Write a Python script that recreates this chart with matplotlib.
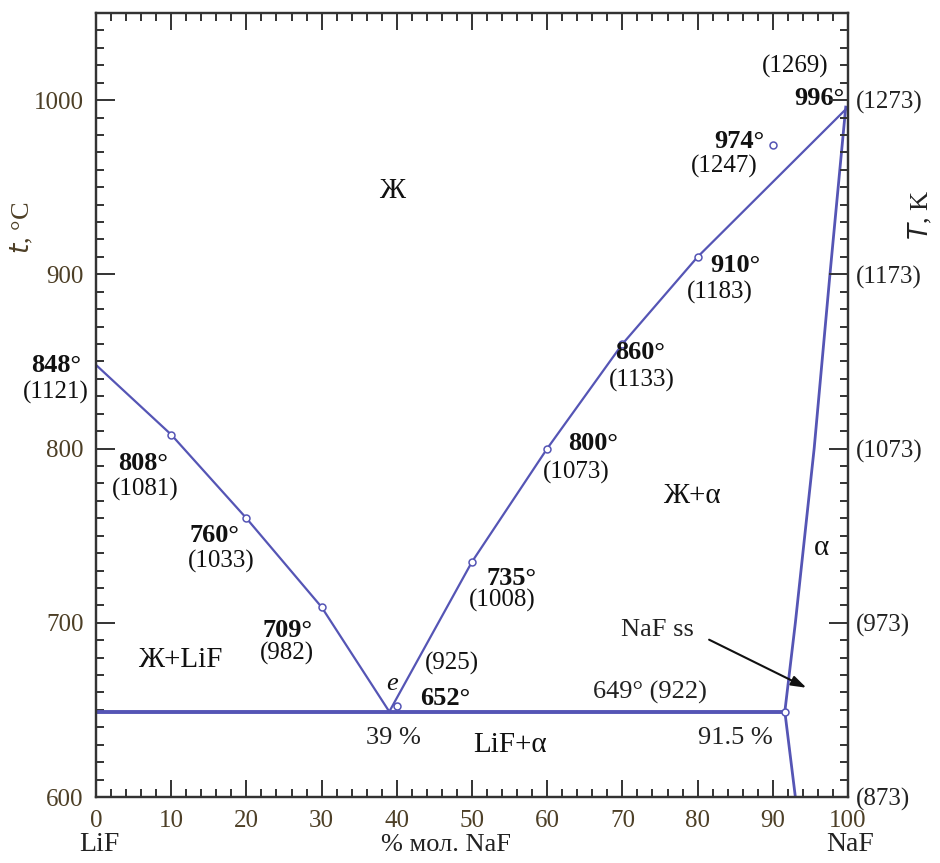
import matplotlib
matplotlib.use("Agg")
import matplotlib.pyplot as plt
from matplotlib.ticker import MultipleLocator, FixedLocator
import matplotlib.transforms as mtransforms

plt.rcParams['font.family'] = ['Liberation Serif', 'DejaVu Serif']
plt.rcParams['mathtext.fontset'] = 'custom'

# ---- data ----
liq_left_x = [0, 10, 20, 30, 39]
liq_left_y = [848, 808, 760, 709, 649]
liq_right_x = [39, 50, 60, 70, 80, 100]
liq_right_y = [649, 735, 800, 860, 910, 996]
solidus_x = [99.7, 97.6, 95.5, 93.0, 91.6]
solidus_y = [996, 900, 800, 700, 649]
solvus_x = [91.6, 93.0]
solvus_y = [649, 600]
eut_x = [0, 91.6]
eut_y = [649, 649]
pts_x = [10, 20, 30, 40, 50, 60, 70, 80, 90, 91.6]
pts_y = [808, 760, 709, 652, 735, 800, 860, 910, 974, 649]

x_ticks = [0, 10, 20, 30, 40, 50, 60, 70, 80, 90, 100]
y_ticks = [600, 700, 800, 900, 1000]
k_labels = ['(873)', '(973)', '(1073)', '(1173)', '(1273)']

# (x, y, text, bold)
point_labels = [
    (-5.3, 847.6, '848°', True), (-5.3, 832, '(1121)', False),
    (6.3, 791.4, '808°', True), (6.6, 776.5, '(1081)', False),
    (15.8, 750, '760°', True), (16.6, 735, '(1033)', False),
    (25.5, 695.7, '709°', True), (25.4, 682.5, '(982)', False),
    (46.4, 656.7, '652°', True), (47.3, 676.8, '(925)', False),
    (55.3, 725.5, '735°', True), (54.0, 712.9, '(1008)', False),
    (66.1, 803, '800°', True), (63.8, 786.2, '(1073)', False),
    (72.3, 855, '860°', True), (72.6, 839, '(1133)', False),
    (85.0, 904.9, '910°', True), (83.0, 889.4, '(1183)', False),
    (85.6, 976.5, '974°', True), (83.6, 962, '(1247)', False),
    (93.0, 1019.5, '(1269)', False), (96.2, 1001, '996°', True),
]
region_labels = [
    (39.4, 948, 'Ж'), (11.2, 678.5, 'Ж+LiF'), (79.3, 773, 'Ж+α'),
    (55.0, 630, 'LiF+α'), (96.5, 743, 'α'),
]
other_labels = [
    (39.5, 634, '39 %'), (85.0, 634, '91.5 %'), (73.7, 660, '649° (922)'),
    (74.7, 696, 'NaF ss'),
]

line_color = '#5555b5'
tick_color = '#4d3f26'
spine_color = '#333333'

fig = plt.figure(figsize=(9.4, 8.63), dpi=100)
ax = fig.add_axes([96/940, 1-797/863, 752/940, 784/863])
ax.set_xlim(0, 100)
ax.set_ylim(600, 1050)

ax.plot(liq_left_x, liq_left_y, color=line_color, lw=1.6)
ax.plot(liq_right_x, liq_right_y, color=line_color, lw=1.6)
ax.plot(solidus_x, solidus_y, color=line_color, lw=2.0)
ax.plot(solvus_x, solvus_y, color=line_color, lw=2.0)
ax.plot(eut_x, eut_y, color=line_color, lw=2.8)
ax.plot(pts_x, pts_y, linestyle='none', marker='o', ms=5, mfc='white',
        mec=line_color, mew=1.1)

for x, y, t, b in point_labels:
    ax.text(x, y, t, ha='center', va='center', fontsize=19 if b else 18,
            fontweight='bold' if b else 'normal', color='#111111', clip_on=False)
for x, y, t in region_labels:
    ax.text(x, y, t, ha='center', va='center', fontsize=21, color='#111111')
for x, y, t in other_labels:
    ax.text(x, y, t, ha='center', va='center', fontsize=19, color='#222222')
ax.text(39.4, 665, 'e', ha='center', va='center', fontsize=19, style='italic',
        color='#111111')

ax.annotate('', xy=(94.8, 662), xytext=(81.2, 691),
            arrowprops=dict(arrowstyle='-|>,head_length=0.9,head_width=0.3',
                            color='#111111', lw=1.5))

# ticks
ax.xaxis.set_major_locator(FixedLocator(x_ticks))
ax.xaxis.set_minor_locator(MultipleLocator(2))
ax.yaxis.set_major_locator(FixedLocator(y_ticks))
ax.yaxis.set_minor_locator(MultipleLocator(10))
ax.tick_params(which='both', direction='in', top=True, right=False,
               colors=spine_color, labelcolor=tick_color, labelsize=18, width=1.4)
ax.tick_params(which='major', length=14, pad=9)
ax.tick_params(which='minor', length=6)
ax.tick_params(axis='x', which='major', length=12)

ax2 = ax.twinx()
ax2.set_ylim(ax.get_ylim())
ax2.yaxis.set_major_locator(FixedLocator(y_ticks))
ax2.yaxis.set_ticklabels(k_labels)
ax2.yaxis.set_minor_locator(MultipleLocator(10))
ax2.tick_params(which='both', direction='in', colors=spine_color,
                labelcolor='#222222', labelsize=18, width=1.4)
ax2.tick_params(which='major', length=14, pad=6)
ax2.tick_params(which='minor', length=6)

for a in (ax, ax2):
    for s in a.spines.values():
        s.set_color(spine_color)
        s.set_linewidth(1.6)

ax.text(-0.098, 0.726, '$t$, °C', transform=ax.transAxes, rotation=90,
        ha='center', va='center', fontsize=19, color=tick_color)
ax.text(1.096, 0.742, '$T$, K', transform=ax.transAxes, rotation=90,
        ha='center', va='center', fontsize=19, color='#222222')

trans = mtransforms.blended_transform_factory(ax.transData, ax.transAxes)
ax.text(0.5, -0.061, 'LiF', transform=trans, ha='center', va='center',
        fontsize=20, color='#222222')
ax.text(46.5, -0.061, '% мол. NaF', transform=trans, ha='center', va='center',
        fontsize=19, color='#222222')
ax.text(100.3, -0.061, 'NaF', transform=trans, ha='center', va='center',
        fontsize=20, color='#222222')

fig.savefig('out.png', dpi=100)
